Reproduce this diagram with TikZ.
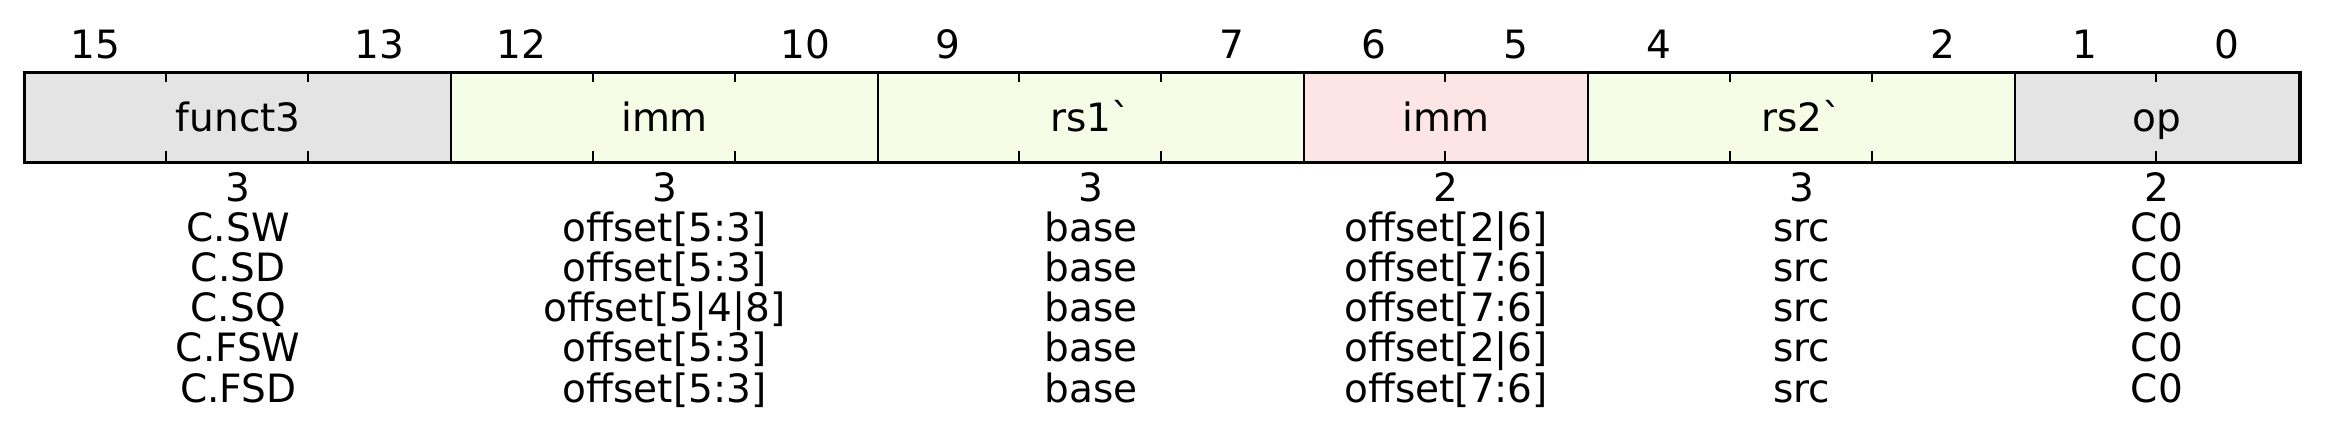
\documentclass[tikz,border=0pt]{standalone}
\usepackage{fontspec}
\setmainfont{DejaVu Sans}
\definecolor{fgray}{RGB}{228,228,228}
\definecolor{fgreen}{RGB}{245,253,230}
\definecolor{fpink}{RGB}{253,229,229}
\begin{document}
\begin{tikzpicture}[x=1pt,y=-1pt,
  txt/.style={font=\fontsize{39}{41}\selectfont, inner sep=0pt, anchor=base},
  field/.style={draw=black, line width=2pt, minimum height=88.5pt, inner sep=0pt, anchor=north west},
  tick/.style={line width=2pt}]
\useasboundingbox (0,0) rectangle (2329,443);
\def\w{142.125}
% fields
\node[field, fill=fgray,  minimum width=3*\w pt] (f1) at (24,72.5) {};
\node[field, fill=fgreen, minimum width=3*\w pt] (f2) at (24+3*\w,72.5) {};
\node[field, fill=fgreen, minimum width=3*\w pt] (f3) at (24+6*\w,72.5) {};
\node[field, fill=fpink,  minimum width=2*\w pt] (f4) at (24+9*\w,72.5) {};
\node[field, fill=fgreen, minimum width=3*\w pt] (f5) at (24+11*\w,72.5) {};
\node[field, fill=fgray,  minimum width=2*\w pt] (f6) at (24+14*\w,72.5) {};
\draw[line width=3pt] (f1.north west) rectangle (f6.south east);
% ticks
\foreach \k in {1,2,4,5,7,8,10,12,13,15}{
  \draw[tick] (24+\k*\w,72.5) -- (24+\k*\w,82);
  \draw[tick] (24+\k*\w,151) -- (24+\k*\w,161);
}
% field labels
\node[txt] (l1) at (f1.center |- 0,132) {funct3};
\node[txt] (l2) at (f2.center |- 0,132) {imm};
\node[txt] (l3) at (f3.center |- 0,132) {rs1\textasciigrave};
\node[txt] (l4) at (f4.center |- 0,132) {imm};
\node[txt] (l5) at (f5.center |- 0,132) {rs2\textasciigrave};
\node[txt] (l6) at (f6.center |- 0,132) {op};
% bit numbers
\foreach \b in {15,13,12,10,9,7,6,5,4,2,1,0}{
  \node[txt] (b\b) at ({24+(15-\b)*\w+\w/2},58.5) {\b};
}
% bottom columns
\foreach \t [count=\i] in {3,C.SW,C.SD,C.SQ,C.FSW,C.FSD}
  \node[txt] (ca\i) at (f1.center |- 0,{161+\i*40.2}) {\t};
\foreach \t [count=\i] in {3,offset[5:3],offset[5:3],offset[5|4|8],offset[5:3],offset[5:3]}
  \node[txt] (cb\i) at (f2.center |- 0,{161+\i*40.2}) {\t};
\foreach \t [count=\i] in {3,base,base,base,base,base}
  \node[txt] (cc\i) at (f3.center |- 0,{161+\i*40.2}) {\t};
\foreach \t [count=\i] in {2,offset[2|6],offset[7:6],offset[7:6],offset[2|6],offset[7:6]}
  \node[txt] (cd\i) at (f4.center |- 0,{161+\i*40.2}) {\t};
\foreach \t [count=\i] in {3,src,src,src,src,src}
  \node[txt] (ce\i) at (f5.center |- 0,{161+\i*40.2}) {\t};
\foreach \t [count=\i] in {2,C0,C0,C0,C0,C0}
  \node[txt] (cf\i) at (f6.center |- 0,{161+\i*40.2}) {\t};
\end{tikzpicture}
\end{document}
